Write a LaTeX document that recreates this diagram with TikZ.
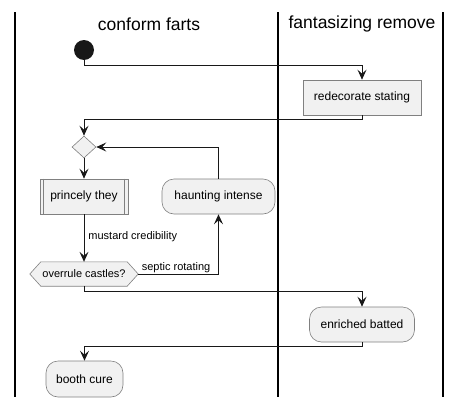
\documentclass[tikz,border=0pt]{standalone}
\usepackage{fontspec}
\setmainfont{Liberation Sans}
\usetikzlibrary{arrows.meta,shapes.geometric,calc}
\definecolor{boxfill}{HTML}{F1F1F1}
\definecolor{boxline}{HTML}{808080}
\definecolor{ink}{HTML}{181818}
\begin{document}
\begin{tikzpicture}[x=1pt,y=-1pt,
  lane/.style={line width=1.5pt,black},
  title/.style={font=\fontsize{17.5}{20}\selectfont},
  act/.style={draw=boxline,fill=boxfill,line width=0.6pt,font=\fontsize{12}{14}\selectfont,inner sep=0pt,minimum height=35pt},
  ract/.style={act,rounded corners=12pt},
  conn/.style={draw=ink,line width=0.9pt,-{Stealth[length=10pt,width=9pt,inset=4pt]}},
  plain/.style={draw=ink,line width=0.9pt},
  lbl/.style={font=\fontsize{11}{13}\selectfont,inner sep=0pt,text=black}]
\useasboundingbox (0,0) rectangle (460,407);
% swimlanes
\draw[lane] (15,12) -- (15,397);
\draw[lane] (278,12) -- (278,397);
\draw[lane] (443,12) -- (443,397);
\node[title] (t1) at (149,24) {conform farts};
\node[title] (t2) at (362,24) {fantasizing remove};
% nodes
\node[circle,fill=ink,minimum size=20pt,inner sep=0pt] (start) at (84,50) {};
\node[act,minimum width=118pt] (redec) at (362,97.5) {redecorate stating};
\node[diamond,draw=boxline,fill=boxfill,line width=0.6pt,minimum width=24pt,minimum height=22pt,inner sep=0pt] (merge) at (84,147) {};
\node[act,minimum width=88pt] (princ) at (84,196.5) {princely they};
\draw[boxline,line width=0.6pt] ([xshift=4pt]princ.north west) -- ([xshift=4pt]princ.south west);
\draw[boxline,line width=0.6pt] ([xshift=-4pt]princ.north east) -- ([xshift=-4pt]princ.south east);
\node[ract,minimum width=113pt] (haunt) at (218.5,196.5) {haunting intense};
\node[inner sep=0pt,minimum width=108pt,minimum height=24pt,font=\fontsize{11}{13}\selectfont] (hex) at (84,274) {overrule castles?};
\draw[boxline,fill=boxfill,line width=0.6pt] (hex.west) -- ([xshift=11pt]hex.north west) -- ([xshift=-11pt]hex.north east) -- (hex.east) -- ([xshift=-11pt]hex.south east) -- ([xshift=11pt]hex.south west) -- cycle;
\node[inner sep=0pt,font=\fontsize{11}{13}\selectfont] at (hex.center) {overrule castles?};
\node[ract,minimum width=105pt] (enrich) at (362,324.5) {enriched batted};
\node[ract,minimum width=77pt,minimum height=36pt] (booth) at (84.5,379) {booth cure};
% bend rows
\coordinate (r1) at (0,65);
\coordinate (r2) at (0,119);
\coordinate (r3) at (0,291);
\coordinate (r4) at (0,346);
\coordinate (loopx) at (218,0);
% connectors
\draw[conn] (start.south) -- (start.south |- r1) -| (redec.north);
\draw[conn] (redec.south) -- (redec.south |- r2) -| (merge.north);
\draw[conn] (merge.south) -- (princ.north);
\draw[conn] (princ.south) -- node[lbl,anchor=west,xshift=4pt,yshift=1pt]{mustard credibility} (hex.north);
\draw[conn] (hex.east) -| node[lbl,pos=0.02,anchor=south west,yshift=1pt]{septic rotating} (haunt.south);
\draw[conn] (haunt.north) |- (merge.east);
\draw[conn] (hex.south) -- (hex.south |- r3) -| (enrich.north);
\draw[conn] (enrich.south) -- (enrich.south |- r4) -| (booth.north);
\end{tikzpicture}
\end{document}
